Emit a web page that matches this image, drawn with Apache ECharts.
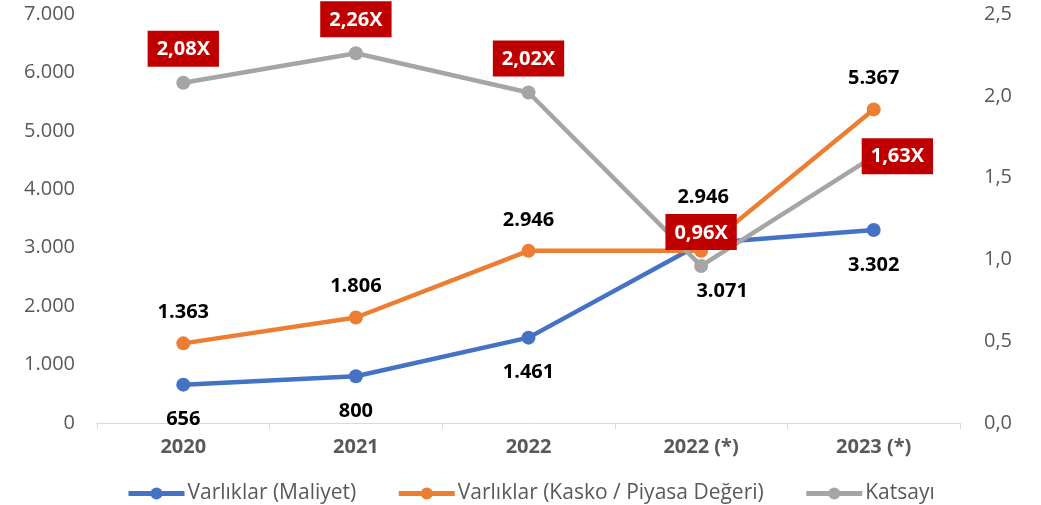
<!DOCTYPE html>
<html><head><meta charset="utf-8">
<script src="https://cdn.jsdelivr.net/npm/echarts@6/dist/echarts.min.js"></script>
<style>html,body{margin:0;padding:0;background:#fff}#c{width:1041px;height:505px}</style>
</head><body><div id="c"></div>
<script>
const categories = ['2020', '2021', '2022', '2022 (*)', '2023 (*)'];
const maliyet = [656, 800, 1461, 3071, 3302];
const kasko = [1363, 1806, 2946, 2946, 5367];
const katsayi = [2.08, 2.26, 2.02, 0.96, 1.63];
const seriesNames = ['Varlıklar (Maliyet)', 'Varlıklar (Kasko / Piyasa Değeri)', 'Katsayı'];
const leftTicks = {min: 0, max: 7000, interval: 1000};
const rightTicks = {min: 0, max: 2.5, interval: 0.5};

const FONT = '"Open Sans", "Noto Sans", sans-serif';
const fmtThousands = v => String(Math.round(v)).replace(/\B(?=(\d{3})+(?!\d))/g, '.');
const fmtDec1 = v => v.toFixed(1).replace('.', ',');
const fmtX = v => v.toFixed(2).replace('.', ',') + 'X';

const valLabel = {show: true, color: '#000', fontWeight: 'bold', fontSize: 20, fontFamily: FONT};

const chart = echarts.init(document.getElementById('c'));
chart.setOption({
  animation: false,
  grid: {left: 97, right: 81, top: 14, bottom: 82, containLabel: false},
  legend: {
    top: 478, left: 121, itemWidth: 56, itemHeight: 15, itemGap: 40,
    lineStyle: {width: 5},
    textStyle: {color: '#595959', fontSize: 21, fontFamily: FONT, padding: [0, 0, 0, -2]},
    data: seriesNames
  },
  xAxis: {
    type: 'category', data: categories, boundaryGap: true,
    axisLine: {lineStyle: {color: '#D9D9D9', width: 1}},
    axisTick: {show: true, length: 6, lineStyle: {color: '#D9D9D9'}},
    axisLabel: {color: '#595959', fontWeight: 'bold', fontSize: 20, fontFamily: FONT, margin: 14}
  },
  yAxis: [
    {type: 'value', min: leftTicks.min, max: leftTicks.max, interval: leftTicks.interval,
     splitLine: {show: false}, axisLine: {show: false}, axisTick: {show: false},
     axisLabel: {color: '#595959', fontSize: 20, fontFamily: FONT, margin: 22, formatter: fmtThousands}},
    {type: 'value', min: rightTicks.min, max: rightTicks.max, interval: rightTicks.interval,
     splitLine: {show: false}, axisLine: {show: false}, axisTick: {show: false},
     axisLabel: {color: '#595959', fontSize: 20, fontFamily: FONT, margin: 24, formatter: fmtDec1}}
  ],
  series: [
    {name: seriesNames[0], type: 'line', yAxisIndex: 0, symbol: 'circle', symbolSize: 14,
     itemStyle: {color: '#4472C4'}, lineStyle: {width: 4.5, color: '#4472C4'},
     data: maliyet.map((v, i) => ({value: v, label: i === 3 ? {offset: [21, 13]} : {}})),
     label: Object.assign({}, valLabel, {position: 'bottom', distance: 18, formatter: p => fmtThousands(p.value)})},
    {name: seriesNames[1], type: 'line', yAxisIndex: 0, symbol: 'circle', symbolSize: 14,
     itemStyle: {color: '#ED7D31'}, lineStyle: {width: 4.5, color: '#ED7D31'},
     data: kasko.map((v, i) => ({value: v, label: i === 3 ? {offset: [2, -23]} : {}})),
     label: Object.assign({}, valLabel, {position: 'top', distance: 14, formatter: p => fmtThousands(p.value)})},
    {name: seriesNames[2], type: 'line', yAxisIndex: 1, symbol: 'circle', symbolSize: 14,
     itemStyle: {color: '#A5A5A5'}, lineStyle: {width: 4.5, color: '#A5A5A5'},
     data: katsayi.map((v, i) => ({value: v, label: i === 4 ? {position: 'right', distance: -19} : {}})),
     label: {show: true, position: 'top', distance: 9, color: '#fff', fontWeight: 'bold', fontSize: 20,
       fontFamily: FONT, backgroundColor: '#C00000', padding: [9, 9, 7, 9], formatter: p => fmtX(p.value)}}
  ]
});
</script></body></html>
